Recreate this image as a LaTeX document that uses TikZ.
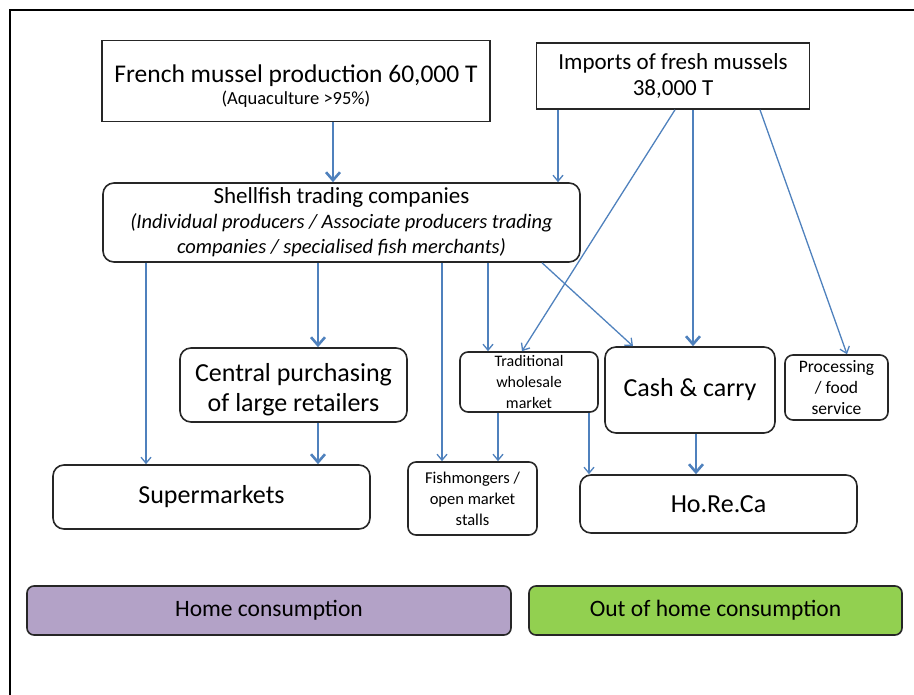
\documentclass[tikz,border=0pt]{standalone}
\usepackage{fontspec}
\setmainfont{Carlito}
\usetikzlibrary{arrows.meta}

\definecolor{flowblue}{HTML}{4F81BD}
\definecolor{boxline}{HTML}{262626}
\definecolor{homefill}{HTML}{B3A2C7}
\definecolor{outfill}{HTML}{92D050}

\newcommand{\fsz}[2]{\fontsize{#1}{#2}\selectfont}

\tikzset{
  sqbox/.style={draw=boxline, line width=1.6pt, align=center, inner sep=2pt},
  rbox/.style={sqbox, rounded corners=11pt},
  thin flow/.style={draw=flowblue, line width=1.3pt, -{Straight Barb[length=6pt,width=10pt]}},
  thick flow/.style={draw=flowblue, line width=2.6pt, -{Straight Barb[length=8pt,width=14pt]}}
}

\begin{document}
\begin{tikzpicture}[x=1pt, y=-1pt]
\useasboundingbox (0,0) rectangle (914,695);
\draw[black, line width=1.5pt] (10,695) -- (10,10) -- (914,10);

% sources
\node[sqbox, minimum width=388pt, minimum height=81pt, font=\fsz{25.5}{26}] (fr) at (296,81)
  {\rule{0pt}{27pt}French mussel production 60,000 T\\[-4pt]
   \fsz{18.5}{20}(Aquaculture >95\%)};
\node[sqbox, minimum width=273pt, minimum height=66pt, font=\fsz{23}{26}] (imp) at (673,76)
  {Imports of fresh mussels\\38,000 T};

\node[rbox, minimum width=477pt, minimum height=79pt, font=\fsz{23}{25}] (stc) at (341.5,222.5)
  {Shellfish trading companies\\
   \fsz{20.5}{25}\itshape (Individual producers / Associate producers trading\\
   \fsz{20.5}{25}\itshape companies / specialised fish merchants)};

% intermediaries
\node[rbox, minimum width=227pt, minimum height=74pt, font=\fsz{26}{30}] (cp) at (293.5,385)
  {\rule{0pt}{27pt}Central purchasing\\of large retailers};
\node[rbox, minimum width=138pt, minimum height=60pt, rounded corners=8pt, font=\fsz{16}{21}] (twm) at (529,382)
  {Traditional\\wholesale\\market};
\node[rbox, minimum width=170pt, minimum height=86pt, font=\fsz{26}{30}] (cc) at (690,390)
  {Cash \& carry};
\node[rbox, minimum width=103pt, minimum height=65pt, rounded corners=8pt, font=\fsz{17.5}{21}] (pfs) at (836.5,387.5)
  {Processing\\/ food\\service};

% outlets
\node[rbox, minimum width=317pt, minimum height=64pt, font=\fsz{26}{30}] (sup) at (211.5,497)
  {Supermarkets};
\node[rbox, minimum width=129pt, minimum height=73pt, rounded corners=8pt, font=\fsz{16.5}{21}] (fm) at (472.5,498.5)
  {Fishmongers /\\open market\\stalls};
\node[rbox, minimum width=277pt, minimum height=58pt, font=\fsz{26}{30}] (hrc) at (718.5,504)
  {Ho.Re.Ca};

% consumption
\node[rbox, fill=homefill, rounded corners=7pt, minimum width=484pt, minimum height=49pt, font=\fsz{23.5}{26}] (home) at (269,610.5)
  {Home consumption};
\node[rbox, fill=outfill, rounded corners=7pt, minimum width=373pt, minimum height=49pt, font=\fsz{23.5}{26}] (ooh) at (715.5,610.5)
  {Out of home consumption};

% flows
\draw[thick flow] (fr.south -| 333,0) -- (stc.north -| 333,0);
\draw[thin flow] (imp.south -| 558,0) -- (stc.north -| 558,0);
\draw[thin flow] (imp.south -| 675,0) -- (twm.north -| 522,0);
\draw[thick flow] (imp.south -| 693,0) -- (cc.north -| 693,0);
\draw[thin flow] (imp.south -| 760,0) -- (pfs.north -| 847,0);

\draw[thin flow] (stc.south -| 146,0) -- (sup.north -| 146,0);
\draw[thick flow] (stc.south -| 318,0) -- (cp.north -| 318,0);
\draw[thin flow] (stc.south -| 442,0) -- (fm.north -| 442,0);
\draw[thin flow] (stc.south -| 488,0) -- (twm.north -| 488,0);
\draw[thin flow] (stc.south -| 542,0) -- (cc.north -| 633,0);

\draw[thick flow] (cp.south -| 318,0) -- (sup.north -| 318,0);
\draw[thin flow] (twm.south -| 498,0) -- (fm.north -| 498,0);
\draw[thin flow] (twm.south -| 589,0) -- (hrc.north -| 589,0);
\draw[thick flow] (cc.south -| 696,0) -- (hrc.north -| 696,0);
\end{tikzpicture}
\end{document}
